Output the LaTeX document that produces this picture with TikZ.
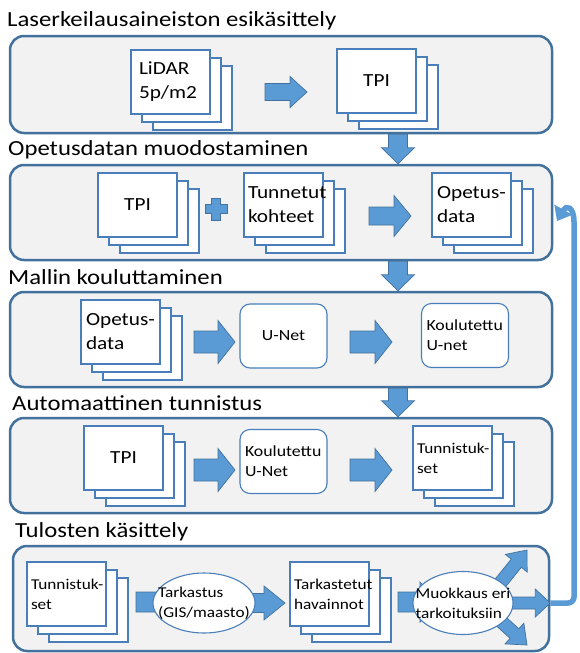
\documentclass[tikz,border=0pt]{standalone}
\usepackage{fontspec}
\setmainfont{Carlito}[FakeStretch=1.15]
\usepackage{tikz}
\usetikzlibrary{calc,positioning,shapes.geometric,arrows.meta}
\exhyphenpenalty=10000
\hyphenpenalty=10000

\definecolor{panelfill}{HTML}{F2F2F2}
\definecolor{panelline}{HTML}{41719C}
\definecolor{boxline}{HTML}{4A7EBB}
\definecolor{arrowfill}{HTML}{5B9BD5}

\pgfdeclarelayer{back}
\pgfdeclarelayer{mid}
\pgfsetlayers{back,mid,main}

\tikzstyle{panel}=[draw=panelline, fill=panelfill, line width=2.5pt, rounded corners=14pt, minimum width=542pt, minimum height=95pt]
\tikzstyle{heading}=[anchor=base west, inner sep=0pt, font=\fontsize{21.5}{26}\selectfont]
\tikzstyle{doc}=[draw=boxline, fill=white, line width=1.1pt, minimum width=79pt, minimum height=64pt, inner sep=5pt, text width=69pt, align=left, font=\fontsize{18.5}{24}\selectfont]
\tikzstyle{smalltext}=[font=\fontsize{15.5}{20}\selectfont]
\tikzstyle{ovaltext}=[font=\fontsize{15}{20}\selectfont]
\tikzstyle{docsmall}=[font=\fontsize{15}{20}\selectfont, inner sep=4pt, text width=71pt]
\tikzstyle{model}=[draw=boxline, fill=white, line width=1.1pt, rounded corners=10pt, minimum width=87pt, minimum height=64pt, inner sep=5pt, text width=77pt, align=left, smalltext]
\tikzstyle{oval}=[ellipse, draw=boxline, fill=white, line width=1.1pt, inner sep=0pt]
\tikzstyle{blockarr}=[fill=arrowfill, draw=panelline, line width=0.7pt, line join=miter]
\tikzstyle{feedback}=[draw=arrowfill, line width=5.5pt, -{Triangle[length=13pt,width=20pt]}]

% stack of three sheets, front one named #2
\newcommand{\docstack}[4][]{%
  \node[doc] (#2-3) at ($(#3)+(22,16)$) {};
  \node[doc] (#2-2) at ($(#3)+(11,8)$) {};
  \node[doc,#1] (#2) at (#3) {#4};}

% block arrow from #1 to #2: half shaft, half head, head length
\newcommand{\blockarrow}[5]{%
  \path ($(#2)!#5!(#1)$) coordinate (hb);
  \filldraw[blockarr] ($(#1)!#3!90:(#2)$) -- ($(hb)!#3!-90:(#1)$) -- ($(hb)!#4!-90:(#1)$) -- (#2)
    -- ($(hb)!#4!90:(#1)$) -- ($(hb)!#3!90:(#1)$) -- ($(#1)!#3!-90:(#2)$) -- cycle;}

\begin{document}
\begin{tikzpicture}[x=1pt,y=-1pt]
\useasboundingbox (0,0) rectangle (580,653);

\begin{pgfonlayer}{back}
\node[panel, minimum height=97pt] (p1) at (281,84.5) {};
\node[panel] (p2) at (281,212.5) {};
\node[panel] (p3) at (281,339.5) {};
\node[panel] (p4) at (281,465.5) {};
\node[panel, minimum width=536pt, minimum height=105pt] (p5) at (281,598.5) {};
\end{pgfonlayer}

\node[heading] (h1) at (7,27) {Laserkeilausaineiston esikäsittely};
\node[heading] (h2) at (8,155) {Opetusdatan muodostaminen};
\node[heading] (h3) at (8,284) {Mallin kouluttaminen};
\node[heading] (h4) at (12,410) {Automaattinen tunnistus};
\node[heading] (h5) at (15,537) {Tulosten käsittely};

% panel 1
\docstack[inner sep=8pt, text width=63pt]{lidar}{170.5,82}{LiDAR\\5p/m2}
\docstack[align=center]{tpiA}{376.5,81}{TPI}
% panel 2
\docstack[align=center]{tpiB}{137.5,205}{TPI}
\docstack[inner sep=4pt, text width=71pt]{known}{283.5,205}{Tunnetut\\kohteet}
\docstack{trainA}{471.5,205}{Opetus-\\data}
% panel 3
\docstack{trainB}{120.5,332}{Opetus-\\data}
\node[model, align=center] (unet) at (283.5,336) {U-Net};
\node[model] (trained) at (465,335.5) {Koulutettu\\U-net};
% panel 4
\docstack[align=center]{tpiC}{123.5,458}{TPI}
\node[model] (trainedB) at (283.5,461.5) {Koulutettu\\U-Net};
\docstack[docsmall]{detA}{452.5,458}{Tunnistuk-\\set}
% panel 5
\docstack[docsmall]{detB}{66.5,594}{Tunnistuk-\\set}
\node[oval, minimum width=102pt, minimum height=60pt] (check) at (204,603) {};
\node[ovaltext, align=left] (checkT) at (check) {Tarkastus\\(GIS/maasto)};
\docstack[docsmall]{checked}{329.5,594}{Tarkastetut\\havainnot}
\node[oval, minimum width=100pt, minimum height=63pt] (edit) at (463,603) {};
\node[ovaltext, align=left] (editT) at (edit) {Muokkaus eri\\tarkoituksiin};

\begin{pgfonlayer}{mid}
% between panels
\coordinate (dn) at (398,0);
\blockarrow{p1.south -| dn}{p2.north -| dn}{9.5pt}{16.5pt}{16pt}
\blockarrow{p2.south -| dn}{p3.north -| dn}{9.5pt}{16.5pt}{16pt}
\blockarrow{p3.south -| dn}{p4.north -| dn}{9.5pt}{16.5pt}{16pt}
% inside panels
\coordinate (r1a) at (265,92);  \coordinate (r1b) at (307,92);
\blockarrow{r1a}{r1b}{8.5pt}{15.5pt}{17pt}
\coordinate (plus) at (216,209);
\filldraw[blockarr] ($(plus)+(-4.5,-11)$) -- ++(9,0) -- ++(0,6.5) -- ++(6.5,0) -- ++(0,9) -- ++(-6.5,0)
  -- ++(0,6.5) -- ++(-9,0) -- ++(0,-6.5) -- ++(-6.5,0) -- ++(0,-9) -- ++(6.5,0) -- cycle;
\coordinate (r2a) at (369,216); \coordinate (r2b) at (411,216);
\blockarrow{r2a}{r2b}{9pt}{20.5pt}{17pt}
\coordinate (r3a) at (194,342); \coordinate (r3b) at (235,342);
\blockarrow{r3a}{r3b}{11pt}{21.5pt}{17pt}
\coordinate (r4a) at (350,342); \coordinate (r4b) at (392,342);
\blockarrow{r4a}{r4b}{11pt}{21.5pt}{17pt}
\coordinate (r5a) at (194,470); \coordinate (r5b) at (235,470);
\blockarrow{r5a}{r5b}{11pt}{21.5pt}{17pt}
\coordinate (r6a) at (350,470); \coordinate (r6b) at (392,470);
\blockarrow{r6a}{r6b}{11pt}{21.5pt}{17pt}
% panel 5
\coordinate (r7a) at (136,602); \coordinate (r7b) at (192,602);
\blockarrow{r7a}{r7b}{10pt}{20pt}{20pt}
\coordinate (r8a) at (225,603); \coordinate (r8b) at (285,603);
\blockarrow{r8a}{r8b}{9.5pt}{17pt}{21pt}
\coordinate (r9a) at (398,602); \coordinate (r9b) at (440,602);
\blockarrow{r9a}{r9b}{10pt}{20pt}{20pt}
\coordinate (outR) at (p5.east |- edit);
\blockarrow{edit}{outR}{6pt}{14pt}{15pt}
\coordinate (upA) at (493,592);   \coordinate (upB) at (527,550);
\blockarrow{upA}{upB}{6.5pt}{14pt}{17pt}
\coordinate (dwA) at (493,614);   \coordinate (dwB) at (527,645);
\blockarrow{dwA}{dwB}{6.5pt}{14pt}{17pt}
% back to training data
\coordinate (fbx) at (574,0);
\coordinate (fbtop) at (574,228);
\coordinate (fbend) at (557,221);
\draw[feedback] (outR) [rounded corners=6pt] -- (fbx |- edit) -- (fbtop) [sharp corners]
  .. controls (574,206) and (566,205) .. (fbend);
\end{pgfonlayer}
\end{tikzpicture}
\end{document}
